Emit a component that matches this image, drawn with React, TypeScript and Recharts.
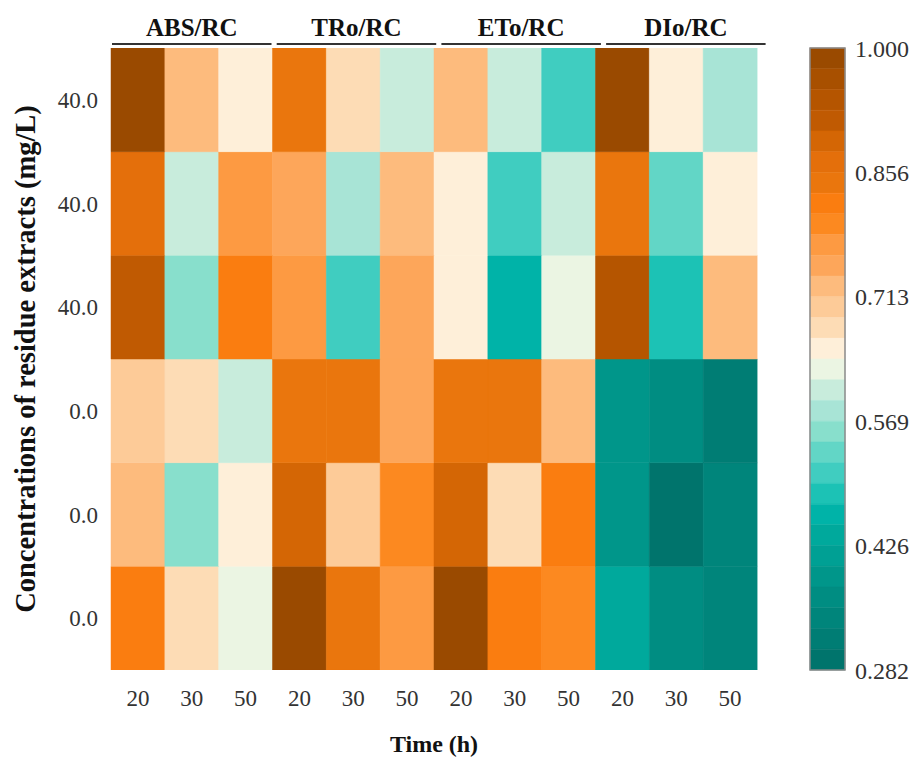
import { BarChart, Bar, Cell, XAxis, YAxis, ReferenceArea } from 'recharts'

const PARAMS = ['ABS/RC', 'TRo/RC', 'ETo/RC', 'DIo/RC']
const TIMES = ['20', '30', '50']
// concentration labels, top row first
const CONC = ['40.0', '40.0', '40.0', '0.0', '0.0', '0.0']

// relative values, rows top to bottom, columns 20 / 30 / 50 h
const ABS_RC = [
  [1.0, 0.725, 0.653],
  [0.868, 0.605, 0.773],
  [0.916, 0.557, 0.82],
  [0.701, 0.677, 0.605],
  [0.725, 0.557, 0.653],
  [0.82, 0.677, 0.629],
]
const TRo_RC = [
  [0.844, 0.677, 0.605],
  [0.749, 0.581, 0.725],
  [0.773, 0.509, 0.749],
  [0.844, 0.844, 0.749],
  [0.892, 0.701, 0.797],
  [0.988, 0.844, 0.773],
]
const ETo_RC = [
  [0.725, 0.605, 0.509],
  [0.653, 0.509, 0.605],
  [0.653, 0.462, 0.629],
  [0.844, 0.844, 0.725],
  [0.892, 0.677, 0.82],
  [0.988, 0.82, 0.797],
]
const DIo_RC = [
  [0.988, 0.653, 0.581],
  [0.844, 0.533, 0.653],
  [0.94, 0.485, 0.725],
  [0.39, 0.366, 0.318],
  [0.39, 0.282, 0.342],
  [0.438, 0.366, 0.342],
]
const VALUES = [ABS_RC, TRo_RC, ETo_RC, DIo_RC]

const V_MIN = 0.282
const V_MAX = 1.0
const CB_TICKS = [1.0, 0.856, 0.713, 0.569, 0.426, 0.282]

// discrete colormap, high value first
const PALETTE = [
  '#9a4a00', '#a85000', '#b55500', '#c05a02', '#d46605',
  '#e46f0b', '#ea760d', '#fa7d10', '#fc8920', '#fd9a42',
  '#fda65a', '#fdbb7d', '#fdcb98', '#fddcb5', '#feefd9',
  '#ebf5e3', '#c8ecdc', '#a8e4d6', '#88dfcc', '#62d6c6',
  '#40cdc0', '#1cc2b5', '#00b3a8', '#00a99c', '#00a094',
  '#00968a', '#008d82', '#00857b', '#007d74', '#00746c',
]
const STEP = (V_MAX - V_MIN) / PALETTE.length

const colorFor = (v: number) => {
  const i = Math.floor((V_MAX - v) / STEP + 1e-6)
  return PALETTE[Math.min(PALETTE.length - 1, Math.max(0, i))]
}

const FONT = '"Liberation Serif", "Times New Roman", serif'
const N_ROWS = CONC.length
const N_COLS = PARAMS.length * TIMES.length

// one category per (parameter, time); each row is a unit block of the stack
const columns = PARAMS.flatMap((p) =>
  TIMES.map((t) => {
    const row: Record<string, string | number> = { id: `${p}-${t}`, time: t }
    for (let b = 0; b < N_ROWS; b++) row[`r${b}`] = 1
    return row
  })
)

const cellValue = (col: number, b: number) => {
  const top = N_ROWS - 1 - b
  return VALUES[Math.floor(col / TIMES.length)][top][col % TIMES.length]
}

// group header: drawn once at the middle column of each parameter
function GroupTick(props: any) {
  const { x, y, index, width } = props
  if (index % TIMES.length !== 1) return <g />
  const g = Math.floor(index / TIMES.length)
  const bw = (width || 646) / N_COLS
  const start = x - 1.5 * bw + 1 + g * 3.2
  const len = 3 * bw - 2
  return (
    <g>
      <line x1={start} x2={start + len} y1={y - 4} y2={y - 4} stroke="#333" strokeWidth={2} />
      <text
        x={start + len / 2}
        y={y - 12}
        textAnchor="middle"
        fontFamily={FONT}
        fontSize={25}
        fontWeight={700}
        fill="#111"
      >
        {PARAMS[g]}
      </text>
    </g>
  )
}

function Heatmap() {
  return (
    <BarChart
      width={917}
      height={758}
      data={columns}
      margin={{ top: 0, right: 160, bottom: 0, left: 0 }}
      barCategoryGap={0}
    >
      <XAxis
        dataKey="id"
        tickFormatter={(v: string) => v.split('-')[1]}
        axisLine={false}
        tickLine={false}
        tickSize={0}
        tickMargin={20}
        height={88}
        interval={0}
        tick={{ fontFamily: FONT, fontSize: 23, fill: '#333' }}
        label={{
          value: 'Time (h)',
          position: 'insideBottom',
          offset: 6,
          style: { fontFamily: FONT, fontSize: 24, fontWeight: 700, fill: '#111' },
        }}
      />
      <XAxis
        xAxisId="grp"
        dataKey="id"
        orientation="top"
        height={48}
        interval={0}
        axisLine={false}
        tickLine={false}
        tickSize={0}
        tickMargin={0}
        tick={<GroupTick />}
      />
      <YAxis
        type="number"
        domain={[0, N_ROWS]}
        allowDataOverflow
        ticks={[0.5, 1.5, 2.5, 3.5, 4.5, 5.5]}
        tickFormatter={(v: number) => CONC[N_ROWS - 1 - Math.floor(v)]}
        width={111}
        axisLine={false}
        tickLine={false}
        tickSize={0}
        tickMargin={13}
        tick={{ fontFamily: FONT, fontSize: 23, fill: '#333' }}
        label={{
          value: 'Concentrations of residue extracts (mg/L)',
          angle: -90,
          position: 'insideLeft',
          offset: 25,
          style: { textAnchor: 'middle', fontFamily: FONT, fontSize: 28.5, fontWeight: 700, fill: '#111' },
        }}
      />
      {CONC.map((_, b) => (
        <Bar key={b} dataKey={`r${b}`} stackId="hm" isAnimationActive={false}>
          {columns.map((_, c) => {
            const fill = colorFor(cellValue(c, b))
            return <Cell key={c} fill={fill} stroke={fill} strokeWidth={0.5} />
          })}
        </Bar>
      ))}
    </BarChart>
  )
}

function ColorBar() {
  return (
    <BarChart
      width={127}
      height={758}
      data={[{ k: 'cb', v: V_MIN }]}
      margin={{ top: 48, right: 0, bottom: 88, left: 20 }}
    >
      <XAxis dataKey="k" hide />
      <YAxis
        orientation="right"
        type="number"
        domain={[V_MIN, V_MAX]}
        allowDataOverflow
        ticks={CB_TICKS}
        tickFormatter={(v: number) => v.toFixed(3)}
        width={72}
        axisLine={false}
        tickLine={false}
        tickSize={0}
        tickMargin={10}
        tick={{ fontFamily: FONT, fontSize: 24, fill: '#333' }}
      />
      <Bar dataKey="v" fill="none" isAnimationActive={false} />
      {PALETTE.map((c, i) => (
        <ReferenceArea
          key={c}
          y1={V_MAX - (i + 1) * STEP}
          y2={V_MAX - i * STEP}
          fill={c}
          fillOpacity={1}
          stroke={c}
          strokeWidth={0.5}
          ifOverflow="visible"
        />
      ))}
      <ReferenceArea y1={V_MIN} y2={V_MAX} fill="none" stroke="#8a8a8a" strokeWidth={1.5} ifOverflow="visible" />
    </BarChart>
  )
}

export default function App() {
  return (
    <div style={{ position: 'relative', width: 917, height: 758, background: '#fff' }}>
      <style>{'body{margin:0}'}</style>
      <div style={{ position: 'absolute', left: 0, top: 0 }}>
        <Heatmap />
      </div>
      <div style={{ position: 'absolute', left: 790, top: 0 }}>
        <ColorBar />
      </div>
    </div>
  )
}
